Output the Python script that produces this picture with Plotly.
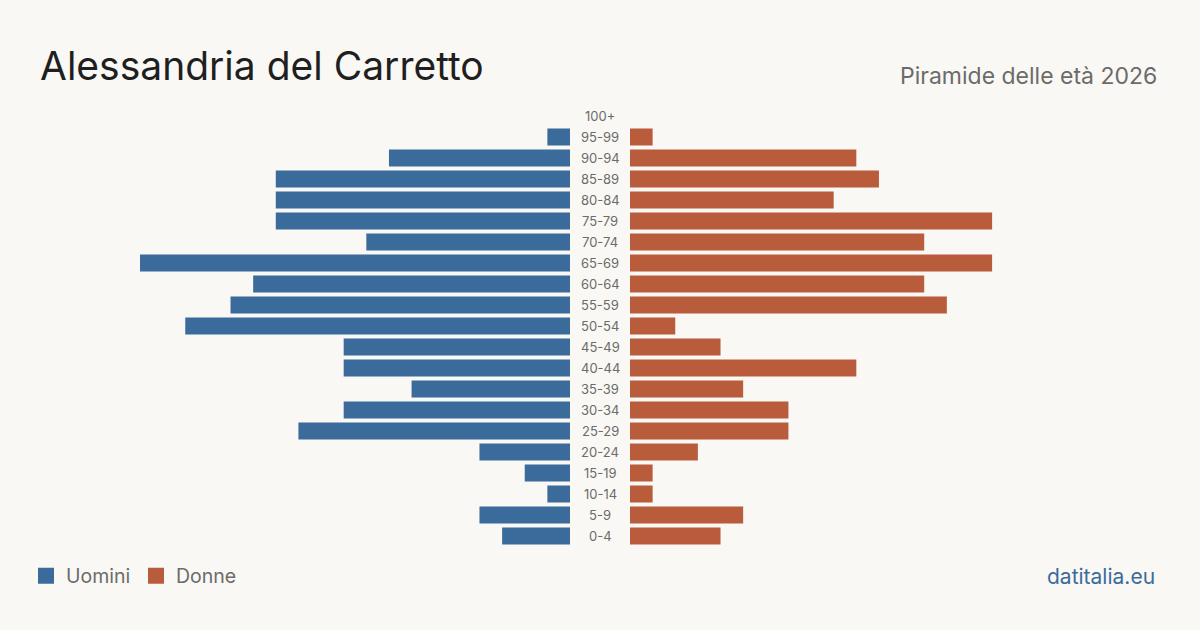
import plotly.graph_objects as go

age_groups = ["0-4", "5-9", "10-14", "15-19", "20-24", "25-29", "30-34", "35-39",
              "40-44", "45-49", "50-54", "55-59", "60-64", "65-69", "70-74",
              "75-79", "80-84", "85-89", "90-94", "95-99", "100+"]
men = [3, 4, 1, 2, 4, 12, 10, 7, 10, 10, 17, 15, 14, 19, 9, 13, 13, 13, 8, 1, 0]
women = [4, 5, 1, 1, 3, 7, 7, 5, 10, 4, 2, 14, 13, 16, 13, 16, 9, 11, 10, 1, 0]
series_names = ["Uomini", "Donne"]

W, H = 1200, 630
BG = "#f9f8f4"
BLUE = "#3b6b9b"
ORANGE = "#b95c3c"
FONT = "Inter"

xmax = max(max(men), max(women))

def px_x(x):
    return x / W

def px_y(y):
    return (H - y) / H

fig = go.Figure()
fig.add_trace(go.Bar(y=age_groups, x=men, orientation="h", name=series_names[0],
                     marker=dict(color=BLUE, line=dict(width=0)), showlegend=False,
                     xaxis="x", yaxis="y"))
fig.add_trace(go.Bar(y=age_groups, x=women, orientation="h", name=series_names[1],
                     marker=dict(color=ORANGE, line=dict(width=0)), showlegend=False,
                     xaxis="x2", yaxis="y"))
# legend entries with square markers
for nm, col in zip(series_names, [BLUE, ORANGE]):
    fig.add_trace(go.Scatter(x=[None], y=[None], mode="markers", name=nm,
                             marker=dict(symbol="square", size=16, color=col),
                             xaxis="x2", yaxis="y", showlegend=True))

annotations = []
for g in age_groups:
    annotations.append(dict(x=0.5, xref="paper", y=g, yref="y", text=g,
                            showarrow=False, xanchor="center", yanchor="middle",
                            font=dict(family=FONT, size=13, color="#6b6b6b")))

annotations += [
    dict(x=px_x(38), y=px_y(66), xref="paper", yref="paper", text="Alessandria del Carretto",
         showarrow=False, xanchor="left", yanchor="middle",
         font=dict(family=FONT, size=39, color="#1f1f1f")),
    dict(x=px_x(1159), y=px_y(76), xref="paper", yref="paper", text="Piramide delle età 2026",
         showarrow=False, xanchor="right", yanchor="middle",
         font=dict(family=FONT, size=23, color="#6b6b6b")),
    dict(x=px_x(1157), y=px_y(576), xref="paper", yref="paper", text="datitalia.eu",
         showarrow=False, xanchor="right", yanchor="middle",
         font=dict(family=FONT, size=21, color=BLUE)),
]

fig.update_layout(
    width=W, height=H,
    margin=dict(l=0, r=0, t=0, b=0),
    paper_bgcolor=BG, plot_bgcolor=BG,
    bargap=4 / 21,
    showlegend=True,
    legend=dict(orientation="h", x=px_x(26), y=px_y(576), xanchor="left", yanchor="middle",
                font=dict(family=FONT, size=19.5, color="#6b6b6b"),
                bgcolor="rgba(0,0,0,0)", entrywidth=65, entrywidthmode="pixels",
                itemclick=False, itemdoubleclick=False),
    xaxis=dict(domain=[px_x(140), px_x(570)], range=[xmax, 0], visible=False,
               fixedrange=True),
    xaxis2=dict(domain=[px_x(630), px_x(1060)], range=[0, xmax], visible=False,
                anchor="y", fixedrange=True),
    yaxis=dict(domain=[px_y(546.5), px_y(105.5)], type="category",
               categoryorder="array", categoryarray=age_groups,
               range=[-0.5, len(age_groups) - 0.5], visible=False, fixedrange=True),
    annotations=annotations,
    hovermode=False,
)

fig.write_html("out.html", config={"displayModeBar": False})
